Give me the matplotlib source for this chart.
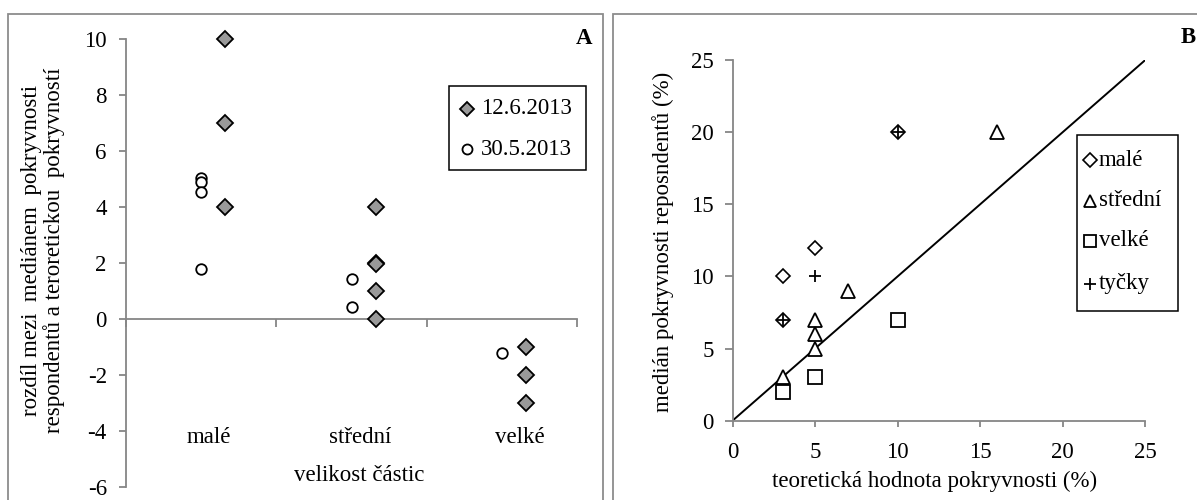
import matplotlib
matplotlib.use('Agg')
import matplotlib.pyplot as plt
from matplotlib.patches import Rectangle
from matplotlib.lines import Line2D

plt.rcParams['font.family'] = ['Liberation Serif', 'DejaVu Serif']
plt.rcParams['axes.unicode_minus'] = False

FS = 16.5
GRAY = '#868686'

# panel A data: difference between respondents' median and theoretical cover
categories = ['malé', 'střední', 'velké']
jun_cat = [0, 0, 0, 1, 1, 1, 1, 1, 2, 2, 2]
jun_diff = [10, 7, 4, 4, 2.02, 1.97, 1, 0, -1, -2, -3]
may_cat = [0, 0, 0, 0, 1, 1, 2]
may_diff = [5.05, 4.9, 4.55, 1.8, 1.45, 0.45, -1.2]
a_yticks = [-6, -4, -2, 0, 2, 4, 6, 8, 10]

# panel B data: theoretical cover vs respondents' median (%)
male_x = [3.05, 3.05, 5, 10]
male_y = [10, 7, 12, 20]
stred_x = [3.05, 5, 5, 5, 7, 16]
stred_y = [3, 7, 6, 5, 9, 20]
velke_x = [3.05, 5, 10]
velke_y = [2, 3, 7]
tycky_x = [3.05, 5, 10]
tycky_y = [7, 10, 20]
b_ticks = [0, 5, 10, 15, 20, 25]

W, H = 1197, 500
fig = plt.figure(figsize=(W / 100, H / 100), dpi=100)


def fx(x):
    return x / W


def fy(y):
    return 1 - y / H


def legend_box(box, mx, tx, rows, entries):
    # hand-placed legend: box in pixels (x0, y0, x1, y1), marker x, text x, row y's
    x0, y0, x1, y1 = box
    fig.add_artist(Rectangle((fx(x0), fy(y1)), (x1 - x0) / W, (y1 - y0) / H,
                             transform=fig.transFigure, fill=False, ec='black', lw=1.1))
    for y, (style, label) in zip(rows, entries):
        fig.add_artist(Line2D([fx(mx)], [fy(y)], transform=fig.transFigure, ls='none', **style))
        fig.text(fx(tx), fy(y), label, ha='left', va='center', fontsize=FS)


# panel frames
fig.add_artist(Rectangle((fx(8), -0.05), 595 / W, 1.05 - 14 / H, transform=fig.transFigure,
                         fill=False, ec='#8c8c8c', lw=1.3))
fig.add_artist(Rectangle((fx(613), -0.05), 600 / W, 1.05 - 14 / H, transform=fig.transFigure,
                         fill=False, ec='#8c8c8c', lw=1.3))

# ---------- panel A ----------
jun_style = dict(marker='D', ms=8.5, mfc='#999999', mec='black', mew=1.3)
may_style = dict(marker='o', ms=7.6, mfc='white', mec='black', mew=1.3)

axA = fig.add_axes([fx(126.3), fy(487.3), 450.4 / W, 448 / H])
axA.set_xlim(0, 3)
axA.set_ylim(-6, 10)
axA.plot([c + 0.66 for c in jun_cat], jun_diff, ls='none', zorder=3, clip_on=False, **jun_style)
axA.plot([c + 0.5 for c in may_cat], may_diff, ls='none', zorder=3, clip_on=False, **may_style)

for s in ['top', 'right']:
    axA.spines[s].set_visible(False)
axA.spines['bottom'].set_position(('data', 0))
for s in ['left', 'bottom']:
    axA.spines[s].set_color(GRAY)
    axA.spines[s].set_linewidth(1.3)
axA.set_yticks(a_yticks)
axA.set_xticks(range(len(categories) + 1))
axA.set_xticklabels([])
axA.tick_params(axis='y', length=5, width=1.3, color=GRAY, pad=9, labelsize=FS)
axA.tick_params(axis='x', direction='out', length=6, width=1.3, color=GRAY)

label_offsets = [0.05, 0.06, 0.12]
for i, (name, off) in enumerate(zip(categories, label_offsets)):
    axA.text(i + 0.5 + off, -4.23, name, ha='center', va='center', fontsize=FS)
axA.text(1.548, -5.57, 'velikost částic', ha='center', va='center', fontsize=FS)

axA.set_ylabel('rozdíl mezi  mediánem  pokryvnosti\nrespondentů a teroretickou  pokryvností',
               fontsize=FS, linespacing=1.05)
axA.yaxis.set_label_coords((43 - 126.3) / 450.4, (487.3 - 250) / 448)
axA.yaxis.label.set_va('center')

small_jun = dict(jun_style, ms=7.5)
small_may = dict(may_style, ms=7.2)
legend_box((449.3, 86, 585.5, 170), 467, 481, [109, 149.5],
           [(small_jun, '12.6.2013'), (small_may, '30.5.2013')])
fig.text(fx(584.3), fy(39), 'A', ha='center', va='center', fontsize=FS, fontweight='bold')

# ---------- panel B ----------
male_style = dict(marker='D', ms=7.5, mfc='white', mec='black', mew=1.2)
stred_style = dict(marker='^', ms=9.5, mfc='white', mec='black', mew=1.3)
velke_style = dict(marker='s', ms=9.8, mfc='white', mec='black', mew=1.3)
tycky_style = dict(marker='+', ms=9, mec='black', mew=1.3)

axB = fig.add_axes([fx(732.5), fy(420.7), 412.8 / W, 360.7 / H])
axB.set_xlim(0, 25)
axB.set_ylim(0, 25)
axB.plot([0, 25], [0, 25], color='black', lw=1.4, zorder=2)
axB.plot(male_x, male_y, ls='none', zorder=3, **male_style)
axB.plot(stred_x, stred_y, ls='none', zorder=3, **stred_style)
axB.plot(velke_x, velke_y, ls='none', zorder=3, **velke_style)
axB.plot(tycky_x, tycky_y, ls='none', zorder=4, **tycky_style)

for s in ['top', 'right']:
    axB.spines[s].set_visible(False)
for s in ['left', 'bottom']:
    axB.spines[s].set_color(GRAY)
    axB.spines[s].set_linewidth(1.3)
axB.set_xticks(b_ticks)
axB.set_yticks(b_ticks)
axB.tick_params(axis='y', length=5.5, width=1.3, color=GRAY, pad=8, labelsize=FS)
axB.tick_params(axis='x', length=4.5, width=1.3, color=GRAY, pad=11, labelsize=FS)

axB.set_xlabel('teoretická hodnota pokryvnosti (%)', fontsize=FS)
axB.xaxis.set_label_coords((935 - 732.5) / 412.8, (420.7 - 481.7) / 360.7)
axB.xaxis.label.set_va('center')
axB.set_ylabel('medián pokryvnosti reposndentů (%)', fontsize=FS)
axB.yaxis.set_label_coords((662.8 - 732.5) / 412.8, (420.7 - 242) / 360.7)
axB.yaxis.label.set_va('center')

legend_box((1077, 135, 1178, 310.7), 1090, 1099, [160, 201, 241, 284],
           [(dict(male_style, ms=7), 'malé'), (dict(stred_style, ms=8.5), 'střední'),
            (dict(velke_style, ms=8.5), 'velké'), (dict(tycky_style, ms=8.5), 'tyčky')])
fig.text(fx(1188), fy(37.3), 'B', ha='center', va='center', fontsize=FS, fontweight='bold')

fig.savefig('out.png', dpi=100)
